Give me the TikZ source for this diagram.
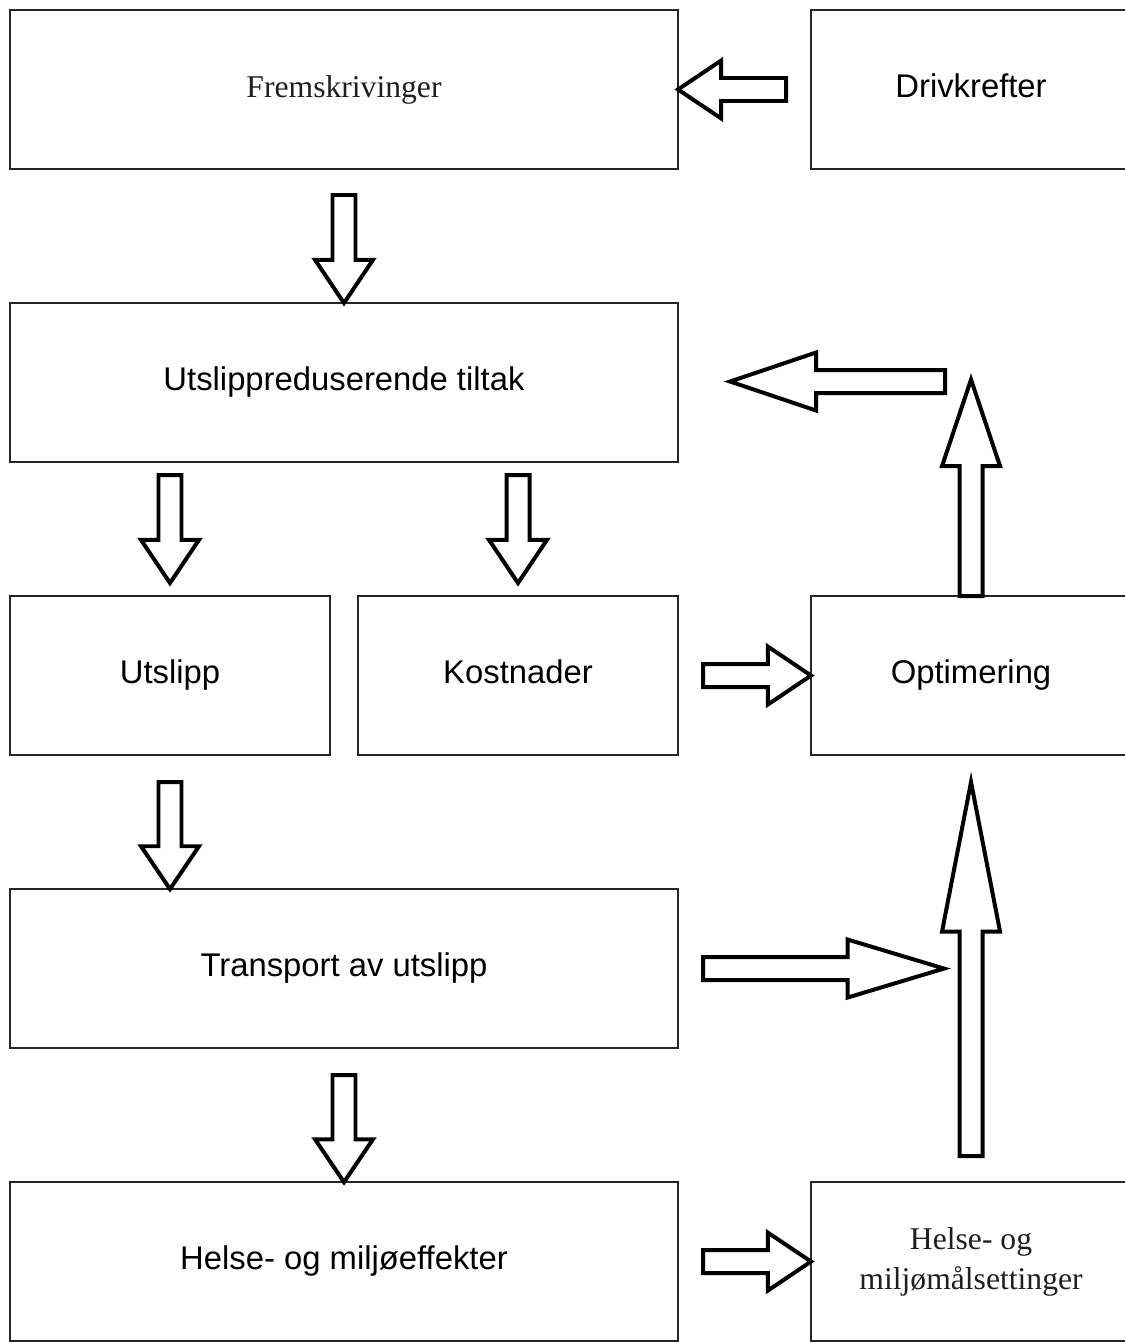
\documentclass[tikz,border=0pt]{standalone}
\usepackage{fontspec}
\setsansfont{Liberation Sans}
\newfontfamily\timesfont{Liberation Serif}
\usepackage{tikz}
\usetikzlibrary{positioning,calc}

% block arrow between two named coordinates
\newcommand{\blockarrow}[2]{%
    \coordinate (ba-h) at ($(#2)!0.4!(#1)$);
    \draw[arrow_style] ($(#1)!0.345cm!90:(#2)$) -- ($(ba-h)!0.345cm!90:(#2)$)
        -- ($(ba-h)!0.87cm!90:(#2)$) -- (#2) -- ($(ba-h)!0.87cm!-90:(#2)$)
        -- ($(ba-h)!0.345cm!-90:(#2)$) -- ($(#1)!0.345cm!-90:(#2)$) -- cycle;
}

\begin{document}
\begin{tikzpicture}[
        x=0.03cm, y=-0.03cm,
        node distance=4.02cm and 3.99cm,
        box_style/.style={draw=black!85, line width=1.6pt, fill=white, rectangle, outer sep=0pt,
            minimum height=4.77cm, align=center, text height=20pt, text depth=6.2pt,
            font=\sffamily\fontsize{28}{34}\selectfont},
        big_box/.style={box_style, minimum width=20.04cm},
        half_box/.style={box_style, minimum width=9.6cm},
        side_box/.style={box_style, minimum width=9.6cm},
        serif_text/.style={font=\timesfont\fontsize{27}{34}\selectfont, text=black!88},
        arrow_style/.style={draw=black, line width=3.4pt, fill=white, line join=miter}
    ]
    \clip (0,0) rectangle (1125,1342);

    % Top row
    \node[big_box, serif_text] (frem) at (344,89.5) {Fremskrivinger};
    \node[side_box, right=of frem] (driv) {Drivkrefter};

    % Measures
    \node[big_box, below=of frem] (tiltak) {Utslippreduserende tiltak};

    % Emissions and costs
    \node[half_box, below=of tiltak.south west, anchor=north west] (utslipp) {Utslipp};
    \node[half_box, below=of tiltak.south east, anchor=north east] (kost) {Kostnader};
    \node[side_box, right=of kost] (optim) {Optimering};

    % Transport and effects
    \node[big_box, below=of utslipp.south west, anchor=north west] (transport) {Transport av utslipp};
    \node[big_box, below=of transport] (helse) {Helse- og miljøeffekter};
    \node[side_box, serif_text, text height=, text depth=, right=of helse] (maal) {Helse- og\\miljømålsettinger};

    % Arrow end points
    \coordinate (driv_s) at ($(driv.west)+(-25,0)$);
    \coordinate (frem_s) at ($(frem.south)+(0,26)$);
    \coordinate (utslipp_s) at ($(tiltak.south -| utslipp)+(0,13)$);
    \coordinate (utslipp_e) at ($(utslipp.north)+(0,-13)$);
    \coordinate (kost_s) at ($(tiltak.south -| kost)+(0,13)$);
    \coordinate (kost_e) at ($(kost.north)+(0,-13)$);
    \coordinate (kost_r) at ($(kost.east)+(25,0)$);
    \coordinate (optim_e) at ($(optim.north |- tiltak.east)+(0,-3)$);
    \coordinate (back_s) at ($(optim.north |- tiltak.east)+(-26,-1)$);
    \coordinate (back_e) at ($(tiltak.east)+(52,-1)$);
    \coordinate (transport_s) at ($(utslipp.south)+(0,27)$);
    \coordinate (transport_e) at (utslipp.south |- transport.north);
    \coordinate (transport_r) at ($(transport.east)+(25,0)$);
    \coordinate (transport_f) at ($(transport.east -| optim)+(-27,0)$);
    \coordinate (helse_s) at ($(transport.south)+(0,27)$);
    \coordinate (helse_r) at ($(helse.east)+(25,0)$);
    \coordinate (maal_s) at ($(maal.north)+(0,-26)$);
    \coordinate (maal_e) at ($(optim.south)+(0,27)$);

    % Arrows
    \blockarrow{driv_s}{frem.east}
    \blockarrow{frem_s}{tiltak.north}
    \blockarrow{utslipp_s}{utslipp_e}
    \blockarrow{kost_s}{kost_e}
    \blockarrow{kost_r}{optim.west}
    \blockarrow{optim.north}{optim_e}
    \blockarrow{back_s}{back_e}
    \blockarrow{transport_s}{transport_e}
    \blockarrow{transport_r}{transport_f}
    \blockarrow{helse_s}{helse.north}
    \blockarrow{helse_r}{maal.west}
    \blockarrow{maal_s}{maal_e}

\end{tikzpicture}
\end{document}
